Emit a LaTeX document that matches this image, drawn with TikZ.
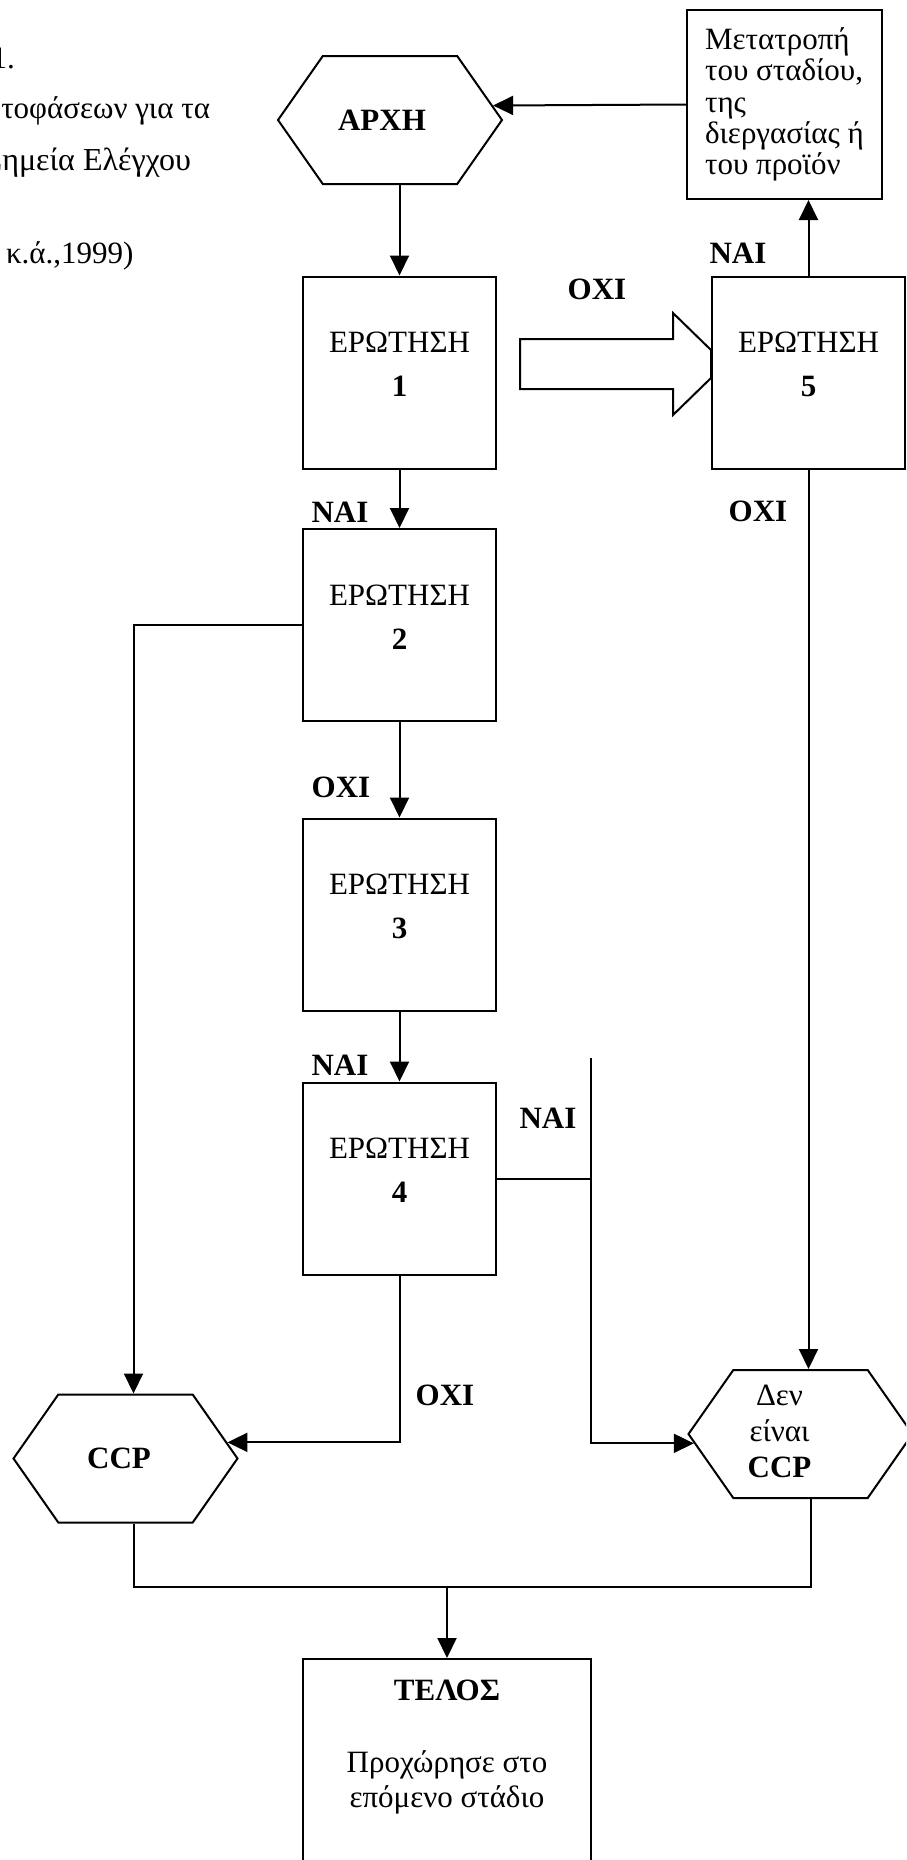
\documentclass[tikz,border=0pt]{standalone}
\usepackage{fontspec}
\setmainfont{Liberation Serif}
\usetikzlibrary{arrows.meta,shapes.symbols,calc}

\begin{document}
\begin{tikzpicture}[x=0.5pt,y=-0.5pt,line width=1pt,>={Triangle[length=10pt,width=9.5pt]},
  font=\fontsize{15.5}{18}\selectfont,
  captext/.style={inner sep=0pt},
  qbox/.style={draw,minimum width=96.5pt,minimum height=96pt,align=center,text depth=8pt},
  hexa/.style={draw,signal,signal to=east and west,signal pointer angle=110,minimum width=112pt,minimum height=64pt,inner sep=2pt},
  lab/.style={font=\fontsize{15.5}{18}\selectfont\bfseries}]
\useasboundingbox (0,0) rectangle (906,1860);
\clip (0,0) rectangle (906,1860);

\node[captext,anchor=base east] (cap1) at (16,68) {1.};
\node[captext,anchor=base east] (cap2) at (211,118) {τοφάσεων για τα};
\node[captext,anchor=base east,font=\fontsize{16}{18}\selectfont] (cap3) at (192,170) {Σημεία Ελέγχου};
\node[captext,anchor=base west] (cap4) at (5,263) {κ.ά.,1999)};

\node[hexa] (arxi) at (390,120) {\textbf{ΑΡΧΗ}\hspace*{8pt}};
\node[draw,minimum width=97.5pt,minimum height=94.5pt,align=left,font=\fontsize{15.5}{15.6}\selectfont] (meta) at (784.5,104.5)
  {Μετατροπή\\του σταδίου,\\της\\διεργασίας ή\\του προϊόν};
\foreach \n/\y in {1/372.5,2/625,3/914.5,4/1178.5}
  \node[qbox] (q\n) at (399.5,\y) {ΕΡΩΤΗΣΗ\\[4pt]\textbf{\n}};
\node[qbox] (q5) at (808.5,372.5) {ΕΡΩΤΗΣΗ\\[4pt]\textbf{5}};
\node[hexa] (ccp) at (125.5,1458.5) {\textbf{CCP}\hspace*{6.5pt}};
\node[hexa] (dci) at (800.5,1434) {\begin{tabular}{@{}c@{\hspace{21pt}}}Δεν\\είναι\\\textbf{CCP}\end{tabular}};
\node[draw,anchor=north,minimum width=144pt,inner ysep=10.7pt,text depth=40pt,align=center,font=\fontsize{15.5}{17.5}\selectfont] (teleos) at (447,1658)
  {\textbf{ΤΕΛΟΣ}\\[18.5pt]Προχώρησε στο\\επόμενο στάδιο};

\foreach \t/\x/\y [count=\i] in {ΟΧΙ/597/289,ΝΑΙ/738/253,ΝΑΙ/340/512,ΟΧΙ/758/511,
                                  ΟΧΙ/341/787,ΝΑΙ/340/1065,ΝΑΙ/548/1118,ΟΧΙ/445/1395}
  \node[lab] (ans\i) at (\x,\y) {\t};

\coordinate (naitop) at (591,1058);
\coordinate (merge) at (447,1587);

\draw[->] (meta.west) -- (arxi.8);
\draw[->] (arxi.south -| q1.north) -- (q1.north);
\foreach \a/\b in {q1/q2,q2/q3,q3/q4}
  \draw[->] (\a) -- (\b);
\draw ($(q1.east)+(23,-33.5)$) -- ($(q5.west)+(-38,-33.5)$) -- ($(q5.west)+(-38,-59.5)$) -- ($(q5.west)+(0,-22.5)$)
  -- ($(q5.west)+(0,5.5)$) -- ($(q5.west)+(-38,42.5)$) -- ($(q5.west)+(-38,16.5)$) -- ($(q1.east)+(23,16.5)$) -- cycle;
\draw[->] (q5.north) -- (q5.north |- meta.south);
\draw[->] (q5.south) -- (q5.south |- dci.north);
\draw[->] (q2.west) -| ([xshift=4pt]ccp.north);
\draw[->] (q4.south) |- (ccp.9);
\draw (q4.east) -- (q4.east -| naitop);
\draw[->] (naitop) |- (dci.185);
\draw ([xshift=4pt]ccp.south) |- (merge) -| ([xshift=5pt]dci.south);
\draw[->] (merge) -- (teleos.north);
\end{tikzpicture}
\end{document}
